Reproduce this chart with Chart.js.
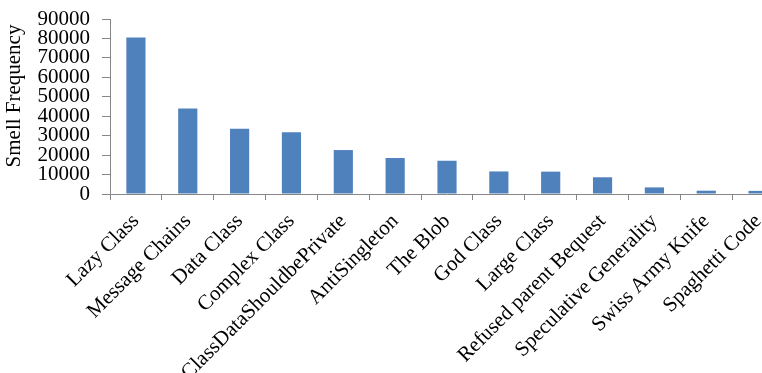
<!DOCTYPE html>
<html>
<head>
<meta charset="utf-8">
<script src="https://cdn.jsdelivr.net/npm/chart.js@4/dist/chart.umd.min.js"></script>
<style>
  html, body { margin: 0; padding: 0; overflow: hidden; background: #fff; }
  #wrap { width: 784px; height: 373px; }
</style>
</head>
<body>
<div id="wrap"><canvas id="c" width="784" height="373"></canvas></div>
<script>
// Code smell occurrence counts, sorted from most to least frequent
const smells = [
  'Lazy Class', 'Message Chains', 'Data Class', 'Complex Class',
  'ClassDataShouldbePrivate', 'AntiSingleton', 'The Blob', 'God Class',
  'Large Class', 'Refused parent Bequest', 'Speculative Generality',
  'Swiss Army Knife', 'Spaghetti Code'
];
const frequency = [
  80500, 44000, 33500, 31700,
  22600, 18500, 17100, 11600,
  11500, 8600, 3400,
  1700, 1600
];
const yTicks = [0, 10000, 20000, 30000, 40000, 50000, 60000, 70000, 80000, 90000];

const axisGrey = '#868686';
const serif = '"Liberation Serif", "Times New Roman", serif';

new Chart(document.getElementById('c'), {
  type: 'bar',
  data: {
    labels: smells,
    datasets: [{
      data: frequency,
      backgroundColor: '#4F81BD',
      borderWidth: 0,
      barPercentage: 0.37,
      categoryPercentage: 1
    }]
  },
  options: {
    responsive: false,
    animation: false,
    devicePixelRatio: 1,
    events: [],
    layout: { padding: { top: 19, left: 0, right: 0, bottom: 0 } },
    plugins: { legend: { display: false }, tooltip: { enabled: false } },
    scales: {
      x: {
        grid: { drawOnChartArea: false, drawTicks: true, tickLength: 6, color: axisGrey, offset: true },
        border: { color: axisGrey },
        ticks: {
          autoSkip: false, minRotation: 45, maxRotation: 45,
          color: '#000', padding: 9,
          font: { family: serif, size: 21 }
        },
        afterFit(s) { s.height = 179; s.paddingLeft = 0; s.paddingRight = 0; }
      },
      y: {
        min: 0, max: 90000,
        grid: { drawOnChartArea: false, drawTicks: true, tickLength: 8, color: axisGrey },
        border: { color: axisGrey },
        ticks: {
          autoSkip: false,
          color: '#000', padding: 12,
          font: { family: serif, size: 21 },
          callback: v => String(v)
        },
        afterBuildTicks(s) { s.ticks = yTicks.map(v => ({ value: v })); },
        title: {
          display: true, text: '    Smell Frequency', color: '#000',
          font: { family: serif, size: 21 }, padding: { top: 2, bottom: 0 }
        },
        afterFit(s) { s.width = 110; s.paddingTop = 0; s.paddingBottom = 0; }
      }
    }
  }
});
</script>
</body>
</html>
